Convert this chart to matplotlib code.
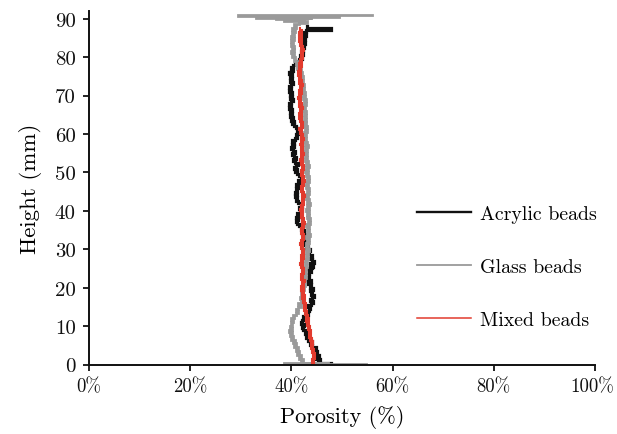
import numpy as np
import matplotlib
matplotlib.use("Agg")
import matplotlib.pyplot as plt
from matplotlib.ticker import FuncFormatter
from matplotlib.lines import Line2D
import matplotlib.transforms as mtransforms

plt.rcParams['font.family'] = ['cmr10', 'DejaVu Serif']
plt.rcParams['axes.formatter.use_mathtext'] = True

# ---------------- data ----------------
# Acrylic beads: heights 0 .. 88 mm every 0.5 mm
acrylic_height = np.arange(0.0, 88.01, 0.5)
acrylic_porosity = [
    46.0, 47.8, 45.2, 45.6, 44.9, 45.4, 44.6, 45.1, 44.3, 44.8,
    44.0, 43.6, 44.1, 43.3, 43.7, 42.9, 43.2, 42.6, 42.9, 42.3,
    42.0, 42.4, 41.8, 42.1, 42.6, 42.2, 42.9, 43.3, 42.8, 43.4,
    43.7, 43.2, 43.9, 44.2, 43.6, 44.0, 44.4, 43.8, 44.1, 43.7,
    44.2, 43.6, 43.9, 43.3, 43.8, 43.1, 43.5, 43.0, 43.4, 43.8,
    43.3, 44.0, 44.3, 43.7, 44.4, 44.0, 43.6, 44.1, 43.5, 43.2,
    43.6, 42.9, 43.2, 42.6, 43.0, 42.4, 42.8, 42.2, 42.6, 42.0,
    42.4, 41.9, 42.3, 41.6, 41.2, 40.9, 41.4, 41.0, 41.5, 41.2,
    41.7, 42.0, 41.6, 42.1, 41.8, 41.3, 40.9, 41.2, 40.8, 41.1,
    40.7, 41.2, 40.9, 41.4, 41.0, 41.6, 41.3, 41.8, 42.0, 41.6,
    41.2, 40.8, 41.1, 40.6, 40.9, 41.3, 40.8, 40.4, 40.9, 40.5,
    40.2, 40.7, 40.3, 40.0, 40.5, 40.1, 40.6, 40.2, 40.8, 41.2,
    40.9, 41.4, 41.1, 41.5, 41.0, 40.6, 40.2, 40.5, 40.0, 40.4,
    39.8, 40.2, 39.7, 40.1, 39.6, 40.0, 39.5, 39.9, 40.3, 39.8,
    40.2, 39.7, 40.1, 39.6, 40.0, 39.5, 39.9, 40.3, 39.8, 40.2,
    39.7, 40.1, 39.6, 40.0, 40.4, 39.9, 40.3, 40.8, 41.2, 41.6,
    42.0, 41.7, 42.2, 41.8, 42.3, 42.0, 42.5, 42.1, 42.6, 42.2,
    42.7, 42.3, 42.8, 42.4, 42.9, 47.8, 43.0,
]

# Glass beads: bottom spike, 0.5 .. 89 mm every 0.5 mm, top spike
glass_bottom_height = [0.0, 0.15, 0.3, 0.45]
glass_bottom_porosity = [35.6, 54.7, 38.5, 47.4]
glass_main_height = np.arange(0.5, 89.01, 0.5)
glass_main_porosity = [
    42.6, 41.8, 42.3, 41.5, 41.9, 41.2, 41.6, 40.9, 41.3,
    40.6, 41.0, 40.3, 40.7, 40.0, 40.4, 39.8, 40.2, 39.6, 40.1,
    39.7, 40.2, 39.9, 40.4, 40.0, 40.6, 40.3, 40.9, 41.3, 40.9,
    41.4, 41.8, 41.3, 41.9, 42.2, 41.7, 42.1, 41.8, 42.3, 41.9,
    42.4, 42.0, 42.6, 42.2, 42.7, 42.3, 42.8, 42.4, 42.9, 42.5,
    42.9, 42.4, 43.0, 42.6, 43.1, 42.7, 43.2, 42.8, 43.3, 42.9,
    43.4, 42.9, 43.3, 42.8, 43.5, 43.0, 43.4, 42.9, 43.6, 43.1,
    43.5, 43.0, 43.4, 42.9, 43.6, 43.2, 43.7, 43.1, 43.5, 43.0,
    43.4, 42.9, 43.5, 43.1, 43.6, 43.0, 43.4, 42.8, 43.3, 42.9,
    43.4, 43.0, 43.5, 42.9, 43.3, 42.8, 43.4, 43.0, 43.5, 42.9,
    43.3, 42.7, 43.2, 42.8, 43.4, 42.9, 43.3, 42.7, 43.1, 42.6,
    43.0, 42.5, 43.1, 42.7, 43.2, 42.6, 43.0, 42.5, 42.9, 42.4,
    42.9, 42.5, 43.1, 42.6, 43.0, 42.4, 42.8, 42.3, 42.9, 42.5,
    42.9, 42.4, 42.8, 42.3, 42.7, 42.2, 42.8, 42.4, 42.9, 42.3,
    42.7, 42.2, 42.6, 42.1, 42.5, 42.0, 42.4, 41.9, 42.3, 41.8,
    42.2, 41.7, 42.1, 41.5, 41.8, 41.2, 41.5, 40.9, 41.2, 40.6,
    40.7, 40.2, 40.6, 40.0, 40.5, 40.1, 40.6, 40.0, 40.4, 39.9,
    40.5, 40.0, 40.6, 40.1, 40.7, 40.2, 41.0, 40.5, 41.5,
]
glass_top_height = [89.4, 89.7, 89.9, 90.1, 90.3, 90.5, 90.6, 90.9, 91.0]
glass_top_porosity = [43.0, 38.5, 42.5, 37.0, 44.0, 33.0, 49.4, 29.5, 56.0]

# Mixed beads: heights 0 .. 87.5 mm every 0.5 mm
mixed_height = np.arange(0.0, 87.51, 0.5)
mixed_porosity = [
    44.6, 44.1, 44.5, 44.0, 44.6, 44.2, 44.7, 44.1, 44.4, 43.9,
    44.3, 43.8, 44.2, 43.6, 44.1, 43.5, 43.9, 43.4, 43.8, 43.2,
    43.6, 43.1, 43.5, 42.9, 43.4, 42.8, 43.2, 42.7, 43.1, 42.5,
    42.9, 42.4, 42.8, 42.2, 42.7, 42.1, 42.6, 42.0, 42.5, 41.9,
    42.4, 41.9, 42.5, 42.0, 42.6, 41.9, 42.3, 41.8, 42.4, 42.0,
    42.5, 41.9, 42.3, 41.7, 42.2, 41.8, 42.4, 41.9, 42.5, 42.0,
    42.4, 41.8, 42.2, 41.7, 42.3, 41.9, 42.5, 42.0, 42.4, 41.8,
    42.3, 41.9, 42.4, 42.0, 42.6, 42.1, 42.5, 41.9, 42.3, 41.8,
    42.2, 41.7, 42.3, 41.9, 42.4, 42.0, 42.5, 42.1, 42.6, 42.0,
    42.4, 41.9, 42.3, 41.8, 42.4, 42.0, 42.6, 42.1, 42.5, 41.9,
    42.3, 41.8, 42.4, 42.0, 42.5, 41.9, 42.3, 41.7, 42.2, 41.8,
    42.4, 41.9, 42.3, 41.8, 42.2, 41.7, 42.3, 41.9, 42.4, 41.8,
    42.2, 41.7, 42.1, 41.6, 42.2, 41.8, 42.3, 41.7, 42.1, 41.6,
    42.0, 41.5, 42.1, 41.7, 42.2, 41.6, 42.0, 41.5, 41.9, 41.4,
    41.9, 41.5, 42.0, 41.6, 42.1, 41.7, 42.2, 41.6, 42.0, 41.5,
    41.9, 41.4, 41.8, 41.3, 41.9, 41.5, 42.0, 41.6, 42.1, 41.7,
    42.2, 41.8, 42.3, 41.9, 42.4, 41.8, 42.2, 41.7, 42.1, 41.6,
    42.0, 41.5, 42.1, 41.6, 42.0, 41.7,
]

labels = ["Acrylic beads", "Glass beads", "Mixed beads"]
x_ticks = [0, 20, 40, 60, 80, 100]
y_ticks = [0, 10, 20, 30, 40, 50, 60, 70, 80, 90]

glass_height = np.concatenate([glass_bottom_height, glass_main_height, glass_top_height])
glass_porosity = np.concatenate([glass_bottom_porosity, glass_main_porosity, glass_top_porosity])

colors = ['#111111', '#9a9a9a', '#e23b2e']

# ---------------- figure ----------------
fig = plt.figure(figsize=(6.17, 4.35), dpi=100)
ax = fig.add_axes([89/617, 1-365.5/435, (595-89)/617, (365.5-12)/435])

ax.plot(acrylic_porosity, acrylic_height, color=colors[0], lw=2.3,
        drawstyle='steps-post', solid_joinstyle='miter')
ax.plot(glass_porosity, glass_height, color=colors[1], lw=2.0,
        drawstyle='steps-post', solid_joinstyle='miter')
ax.plot(mixed_porosity, mixed_height, color=colors[2], lw=1.5,
        drawstyle='steps-post', solid_joinstyle='miter')

ax.set_xlim(0, 100)
ax.set_ylim(0, 92)
ax.set_xticks(x_ticks)
ax.set_yticks(y_ticks)
ax.xaxis.set_major_formatter(FuncFormatter(lambda v, p: f"{int(v)}%"))
ax.yaxis.set_major_formatter(FuncFormatter(lambda v, p: f"{int(v)}"))

for s in ['top', 'right']:
    ax.spines[s].set_visible(False)
for s in ['left', 'bottom']:
    ax.spines[s].set_linewidth(1.4)
    ax.spines[s].set_color('#111111')
ax.tick_params(direction='out', length=4.5, width=1.3, colors='#111111', pad=5)
ax.tick_params(axis='x', labelsize=13.5)
ax.tick_params(axis='y', labelsize=15)

# keep the last x tick label inside the canvas
last = ax.get_xticklabels()[-1]
last.set_transform(last.get_transform() +
                   mtransforms.ScaledTranslation(-3/100, 0, fig.dpi_scale_trans))

ax.set_xlabel("Porosity (%)", fontsize=16, labelpad=7)
ax.set_ylabel("Height (mm)", fontsize=16.5, labelpad=9)

handles = [Line2D([], [], color=colors[0], lw=1.7),
           Line2D([], [], color=colors[1], lw=1.3),
           Line2D([], [], color=colors[2], lw=1.1)]
leg = ax.legend(handles, labels, loc='center left', bbox_to_anchor=(417/617, 1-268/435),
                bbox_transform=fig.transFigure, frameon=False, fontsize=14.3,
                handlelength=2.7, handletextpad=0.45, labelspacing=1.75,
                borderpad=0, borderaxespad=0)

fig.savefig("out.png", dpi=100)
